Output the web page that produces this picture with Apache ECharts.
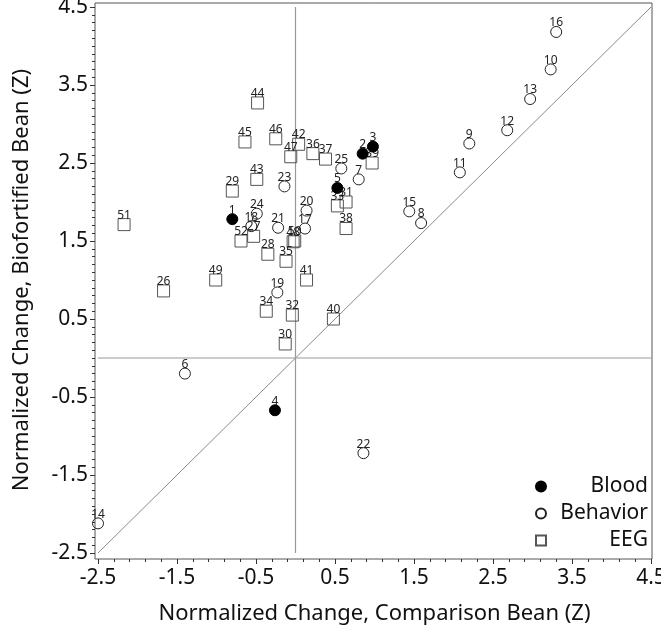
<!DOCTYPE html>
<html><head><meta charset="utf-8">
<script src="https://cdn.jsdelivr.net/npm/echarts@6/dist/echarts.min.js"></script>
<style>html,body{margin:0;padding:0;background:#fff}#c{width:661px;height:632px}</style>
</head><body><div id="c"></div>
<script>
// ---- data ----
const bloodIds = [1, 2, 3, 4, 5];
const bloodX   = [-0.80, 0.85, 0.98, -0.26, 0.53];
const bloodY   = [1.78, 2.62, 2.71, -0.67, 2.18];

const behaviorIds = [6, 7, 8, 9, 10, 11, 12, 13, 14, 15, 16, 17, 18, 19, 20, 21, 22, 23, 24, 25];
const behaviorX   = [-1.40, 0.80, 1.59, 2.20, 3.23, 2.08, 2.68, 2.97, -2.50, 1.44, 3.30, 0.12, -0.56, -0.23, 0.14, -0.22, 0.86, -0.14, -0.49, 0.58];
const behaviorY   = [-0.20, 2.29, 1.73, 2.75, 3.70, 2.38, 2.92, 3.32, -2.12, 1.88, 4.18, 1.66, 1.69, 0.84, 1.89, 1.67, -1.22, 2.20, 1.85, 2.43];

const eegIds = [26, 27, 28, 29, 30, 31, 32, 33, 34, 35, 36, 37, 38, 39, 40, 41, 42, 43, 44, 45, 46, 47, 48, 49, 50, 51, 52];
const eegX   = [-1.67, -0.53, -0.35, -0.80, -0.13, 0.64, -0.04, 0.53, -0.37, -0.12, 0.22, 0.38, 0.64, 0.97, 0.48, 0.14, 0.04, -0.49, -0.48, -0.64, -0.25, -0.06, -0.03, -1.01, -0.01, -2.17, -0.69];
const eegY   = [0.86, 1.56, 1.33, 2.14, 0.18, 2.00, 0.55, 1.95, 0.60, 1.24, 2.62, 2.55, 1.66, 2.50, 0.50, 1.00, 2.74, 2.29, 3.27, 2.77, 2.81, 2.58, 1.49, 1.00, 1.50, 1.71, 1.50];

const axisMin = -2.5, axisMax = 4.5, axisStep = 1;
const xTitle = 'Normalized Change, Comparison Bean (Z)';
const yTitle = 'Normalized Change, Biofortified Bean (Z)';
const legendNames = ['Blood', 'Behavior', 'EEG'];

// ---- build ----
const FONT = 'Noto Sans';
function pts(ids, xs, ys) { return ids.map((id, i) => [xs[i], ys[i], id]); }

const labelCfg = {
  show: true, position: 'top', distance: -3,
  formatter: p => String(p.value[2]),
  fontSize: 12, fontFamily: FONT, color: '#222', opacity: 1
};

const chart = echarts.init(document.getElementById('c'), null, { renderer: 'canvas' });
chart.setOption({
  animation: false,
  backgroundColor: '#fff',
  grid: [
    { left: 98, right: 10, top: 7, bottom: 79, outerBoundsMode: 'none', containLabel: false },
    { left: 95, right: 9, top: 3, bottom: 73, outerBoundsMode: 'none', containLabel: false,
      show: true, borderColor: '#555', borderWidth: 1, backgroundColor: 'transparent', z: 0 }
  ],
  xAxis: [
    {
      type: 'value', gridIndex: 0, min: axisMin, max: axisMax, interval: axisStep,
      offset: 6,
      axisLine: { show: false, onZero: false },
      axisTick: { show: true, length: 5, lineStyle: { color: '#333' } },
      minorTick: { show: true, splitNumber: 5, length: 3, lineStyle: { color: '#333' } },
      splitLine: { show: false },
      axisLabel: { fontSize: 21, fontFamily: FONT, color: '#111', margin: 9 },
      name: xTitle, nameLocation: 'middle', nameGap: 44,
      nameTextStyle: { fontSize: 22, fontFamily: FONT, color: '#111' }
    },
    { type: 'value', gridIndex: 1, min: 0, max: 1, show: false }
  ],
  yAxis: [
    {
      type: 'value', gridIndex: 0, min: axisMin, max: axisMax, interval: axisStep,
      offset: 3,
      axisLine: { show: false, onZero: false },
      axisTick: { show: true, length: 5, lineStyle: { color: '#333' } },
      minorTick: { show: true, splitNumber: 10, length: 3, lineStyle: { color: '#333' } },
      splitLine: { show: false },
      axisLabel: { fontSize: 21, fontFamily: FONT, color: '#111', margin: 7 },
      name: yTitle, nameLocation: 'middle', nameGap: 62,
      nameTextStyle: { fontSize: 22, fontFamily: FONT, color: '#111' }
    },
    { type: 'value', gridIndex: 1, min: 0, max: 1, show: false }
  ],
  legend: {
    orient: 'vertical', right: 8, top: 471,
    itemWidth: 10, itemHeight: 10, itemGap: 6,
    data: [
      { name: legendNames[0], icon: 'circle' },
      { name: legendNames[1], icon: 'circle' },
      { name: legendNames[2], icon: 'rect' }
    ],
    formatter: n => '{t|' + n + '}',
    textStyle: {
      fontSize: 21, fontFamily: FONT, color: '#111',
      rich: { t: { width: 97, align: 'right', fontSize: 21, fontFamily: FONT, color: '#111' } }
    }
  },
  series: [
    {
      name: 'diag', type: 'line', xAxisIndex: 0, yAxisIndex: 0,
      data: [[axisMin, axisMin], [axisMax, axisMax]],
      symbol: 'none', silent: true,
      lineStyle: { color: '#8a8a8a', width: 1, type: 'solid' }, z: 1
    },
    {
      name: 'zeroX', type: 'line', xAxisIndex: 0, yAxisIndex: 0,
      data: [[0, axisMin], [0, axisMax]],
      symbol: 'none', silent: true,
      lineStyle: { color: '#999', width: 1.2, type: 'solid' }, z: 1
    },
    {
      name: 'zeroY', type: 'line', xAxisIndex: 0, yAxisIndex: 0,
      data: [[axisMin, 0], [axisMax, 0]],
      symbol: 'none', silent: true,
      lineStyle: { color: '#999', width: 1.2, type: 'solid' }, z: 1
    },
    {
      name: legendNames[2], type: 'scatter', symbol: 'rect', symbolSize: 12,
      data: pts(eegIds, eegX, eegY),
      itemStyle: { color: 'rgba(255,255,255,0)', borderColor: '#555', borderWidth: 1, opacity: 1 },
      label: labelCfg, z: 2
    },
    {
      name: legendNames[1], type: 'scatter', symbol: 'circle', symbolSize: 11,
      data: pts(behaviorIds, behaviorX, behaviorY),
      itemStyle: { color: 'rgba(255,255,255,0)', borderColor: '#222', borderWidth: 1, opacity: 1 },
      label: labelCfg, z: 2
    },
    {
      name: legendNames[0], type: 'scatter', symbol: 'circle', symbolSize: 11,
      data: pts(bloodIds, bloodX, bloodY),
      itemStyle: { color: '#000', borderColor: '#000', borderWidth: 1, opacity: 1 },
      label: labelCfg, z: 3
    }
  ]
});
</script>
</body></html>
